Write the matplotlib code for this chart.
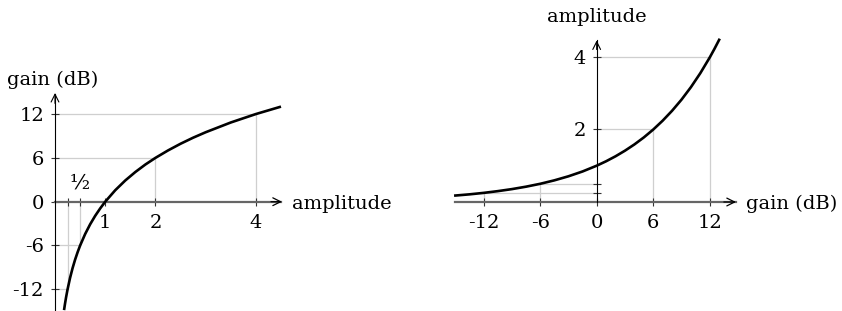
import matplotlib
matplotlib.use("Agg")
import matplotlib.pyplot as plt

plt.rcParams['font.family'] = ['DejaVu Serif']
plt.rcParams['font.size'] = 14

# ---- data: left panel (gain in dB vs amplitude) ----
left_amp = [0.18, 0.2, 0.22, 0.25, 0.3, 0.35, 0.4, 0.45, 0.5, 0.6, 0.7, 0.8, 0.9, 1.0,
            1.2, 1.4, 1.6, 1.8, 2.0, 2.25, 2.5, 2.75, 3.0, 3.5, 4.0, 4.5]
left_gain = [-14.89, -13.98, -13.15, -12.04, -10.46, -9.12, -7.96, -6.94, -6.02, -4.44,
             -3.10, -1.94, -0.92, 0.0, 1.58, 2.92, 4.08, 5.11, 6.02, 7.04, 7.96, 8.79,
             9.54, 10.88, 12.04, 13.06]
left_guide_amp = [0.25, 0.5, 2, 4]
left_guide_gain = [-12, -6, 6, 12]
left_xticks = [0.25, 0.5, 1, 2, 4]
left_xticklabels = ['', '', '1', '2', '4']
left_yticks = [-12, -6, 0, 6, 12]
left_yticklabels = ['-12', '-6', '0', '6', '12']

# ---- data: right panel (amplitude vs gain in dB) ----
right_gain = [-15, -13.5, -12, -10.5, -9, -7.5, -6, -4.5, -3, -1.5, 0, 1, 2, 3, 4, 5, 6,
              7, 8, 9, 10, 11, 12, 12.5, 13]
right_amp = [0.178, 0.211, 0.251, 0.299, 0.355, 0.422, 0.501, 0.596, 0.708, 0.841, 1.0,
             1.122, 1.259, 1.413, 1.585, 1.778, 1.995, 2.239, 2.512, 2.818, 3.162, 3.548,
             3.981, 4.217, 4.467]
right_guide_gain = [-12, -6, 6, 12]
right_guide_amp = [0.25, 0.5, 2, 4]
right_xticks = [-12, -6, 0, 6, 12]
right_xticklabels = ['-12', '-6', '0', '6', '12']
right_yticks = [0.25, 0.5, 2, 4]
right_yticklabels = ['', '', '2', '4']

W, H = 842, 311
fig = plt.figure(figsize=(W / 100, H / 100), dpi=100)

GRID = '#cfcfcf'
XAX = '#666666'


def px_axes(x0, x1, y_top, y_bot):
    return fig.add_axes([x0 / W, (H - y_bot) / H, (x1 - x0) / W, (y_bot - y_top) / H])


def style(ax):
    ax.patch.set_alpha(0)
    for s in ['top', 'right']:
        ax.spines[s].set_visible(False)
    ax.spines['bottom'].set_position(('data', 0))
    ax.spines['left'].set_position(('data', 0))
    ax.spines['bottom'].set_color(XAX)
    ax.spines['bottom'].set_linewidth(1.6)
    ax.spines['left'].set_color('black')
    ax.spines['left'].set_linewidth(0.8)
    ax.spines['left'].set_zorder(4)
    ax.tick_params(direction='inout', length=6, width=0.8, color='#333333')
    ax.tick_params(axis='y', pad=5)
    ax.tick_params(axis='x', pad=5.5)


# ---------------- left panel ----------------
axL = px_axes(55, 282, 93, 311)
axL.set_xlim(0, 4.52)
axL.set_ylim(-15.01, 14.93)
style(axL)
axL.spines['bottom'].set_bounds(0, 4.5)
axL.spines['left'].set_bounds(-15.01, 14.8)
axL.set_xticks(left_xticks, left_xticklabels)
axL.set_yticks(left_yticks, left_yticklabels)

for a, g in zip(left_guide_amp, left_guide_gain):
    axL.plot([0, a], [g, g], color=GRID, lw=0.9, zorder=1)
    axL.plot([a, a], [0, g], color=GRID, lw=0.9, zorder=1)

axL.plot(left_amp, left_gain, color='black', lw=1.9, zorder=3, clip_on=False,
         solid_capstyle='butt')
axL.annotate('', xy=(4.52, 0), xytext=(4.3, 0),
             arrowprops=dict(arrowstyle='->', lw=0.9, color='black',
                             shrinkA=0, shrinkB=0), annotation_clip=False)
axL.annotate('', xy=(0, 14.93), xytext=(0, 13.5),
             arrowprops=dict(arrowstyle='->', lw=0.8, color='black',
                             shrinkA=0, shrinkB=0), annotation_clip=False)
axL.text(0.5, 1.3, '½', ha='center', va='bottom', fontsize=15)
axL.annotate('amplitude', xy=(1, 0), xycoords=('axes fraction', 'data'),
             xytext=(7, 0), textcoords='offset points', ha='left', va='center_baseline')
fig.text(7 / W, 1 - 80 / H, 'gain (dB)', ha='left', va='center', fontsize=14)

# ---------------- right panel ----------------
axR = px_axes(455, 736, 39, 202)
axR.set_xlim(-15.04, 14.79)
axR.set_ylim(0, 4.49)
style(axR)
axR.spines['bottom'].set_bounds(-15.0, 14.79)
axR.spines['left'].set_bounds(0, 4.45)
axR.set_xticks(right_xticks, right_xticklabels)
axR.set_yticks(right_yticks, right_yticklabels)

for g, a in zip(right_guide_gain, right_guide_amp):
    axR.plot([0, g], [a, a], color=GRID, lw=0.9, zorder=1)
    axR.plot([g, g], [0, a], color=GRID, lw=0.9, zorder=1)

axR.plot(right_gain, right_amp, color='black', lw=1.9, zorder=3, clip_on=False)
axR.annotate('', xy=(14.79, 0), xytext=(13.5, 0),
             arrowprops=dict(arrowstyle='->', lw=0.9, color='black',
                             shrinkA=0, shrinkB=0), annotation_clip=False)
axR.annotate('', xy=(0, 4.45), xytext=(0, 4.2),
             arrowprops=dict(arrowstyle='->', lw=0.8, color='black',
                             shrinkA=0, shrinkB=0), annotation_clip=False)
axR.annotate('gain (dB)', xy=(1, 0), xycoords=('axes fraction', 'data'),
             xytext=(7.5, 0), textcoords='offset points', ha='left', va='center_baseline')
fig.text(596.7 / W, 1 - 17 / H, 'amplitude', ha='center', va='center', fontsize=14)

fig.savefig('out.png', dpi=100)
